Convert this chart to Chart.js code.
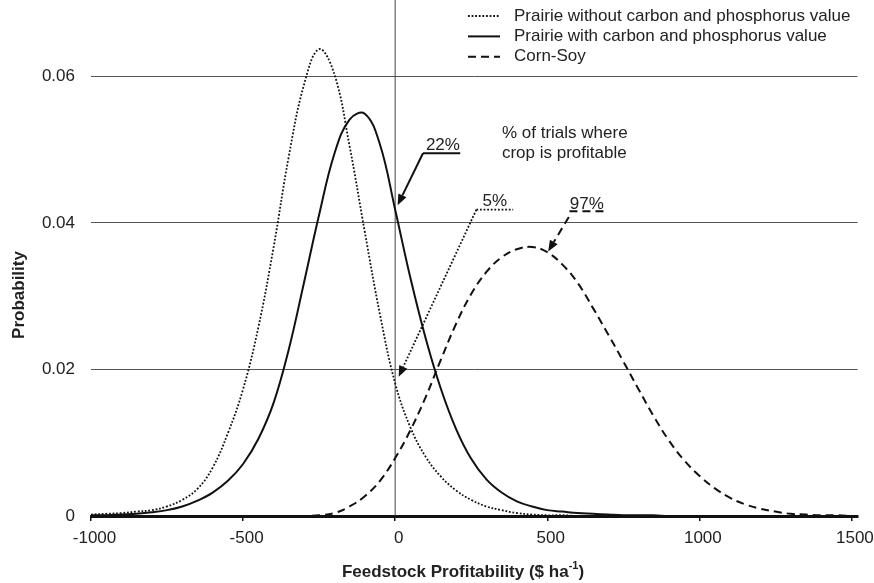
<!DOCTYPE html>
<html>
<head>
<meta charset="utf-8">
<script src="https://cdn.jsdelivr.net/npm/chart.js@4.4.0/dist/chart.umd.min.js"></script>
<style>
  body { margin: 0; background: #fff; }
</style>
</head>
<body>
<canvas id="myChart" width="874" height="583"></canvas>
<script>
const profit = [-1000,-950,-900,-850,-800,-750,-700,-650,-600,-550,-500,-450,-400,-350,-300,-250,-200,-150,-100,-50,
  0,50,100,150,200,250,300,350,400,450,500,550,600,650,700,750,800,850,900,950,
  1000,1050,1100,1150,1200,1250,1300,1350,1400,1450,1500];

const prairieNoValue = [0.0002,0.0003,0.0004,0.0006,0.0008,0.0013,0.0022,0.0037,0.0066,0.0113,0.0173,0.0257,0.0366,0.049,0.0588,0.0637,0.0603,0.0505,0.0388,0.0275,
  0.0181,0.0121,0.0081,0.0054,0.0035,0.0022,0.0013,0.0008,0.0004,0.0002,0.0001,0.0001,0,0,0,0,0,0,0,0,
  0,0,0,0,0,0,0,0,0,0,0];

const prairieWithValue = [0.0001,0.0001,0.0002,0.0003,0.0005,0.0008,0.0013,0.0021,0.0032,0.0048,0.0071,0.0105,0.0154,0.0227,0.0318,0.0411,0.0494,0.0541,0.0549,0.0507,
  0.0418,0.0325,0.0243,0.0174,0.0119,0.0078,0.005,0.0032,0.002,0.0013,0.0008,0.0006,0.0004,0.0003,0.0002,0.0001,0.0001,0.0001,0,0,
  0,0,0,0,0,0,0,0,0,0,0];

const cornSoy = [0,0,0,0,0,0,0,0,0,0,0,0,0,0,0,0.0001,0.0004,0.0013,0.0027,0.0048,
  0.0079,0.0117,0.0162,0.0213,0.0262,0.0303,0.0333,0.0353,0.0364,0.0367,0.036,0.0343,0.0318,0.0284,0.0248,0.0211,0.0173,0.0136,0.0103,0.0076,
  0.0055,0.0038,0.0025,0.0016,0.001,0.0006,0.0003,0.0002,0.0001,0.0001,0];

const seriesNames = ['Prairie without carbon and phosphorus value', 'Prairie with carbon and phosphorus value', 'Corn-Soy'];
const xTicks = [-1000, -500, 0, 500, 1000, 1500];
const yTicks = [0, 0.02, 0.04, 0.06];
const yTickLabels = ['0', '0.02', '0.04', '0.06'];
const profitableShare = ['22%', '5%', '97%'];

const FONT = '"Liberation Sans", Arial, sans-serif';
Chart.defaults.font.family = FONT;
Chart.defaults.font.size = 17;
Chart.defaults.color = '#222';

const lineStyles = [
  { color: '#111', width: 1.8, dash: [1.8, 1.8] },
  { color: '#111', width: 2, dash: [] },
  { color: '#111', width: 2, dash: [8, 5] }
];

function toPoints(values) {
  return profit.map((x, i) => ({ x: x, y: values[i] }));
}

// callouts placed in data units
const callouts = [
  { label: profitableShare[0], text: [101, 0.0500], under: [91.5, 214, 0.0495], from: [91.5, 0.0495], to: [8, 0.0424], style: 1 },
  { label: profitableShare[1], text: [287, 0.0423], under: [267, 388, 0.0418], from: [267, 0.0418], to: [11.5, 0.0190], style: 0 },
  { label: profitableShare[2], text: [574, 0.0419], under: [573, 691, 0.0416], from: [571, 0.0408], to: [503, 0.0361], style: 2 }
];

function arrow(ctx, x1, y1, x2, y2, st) {
  const ang = Math.atan2(y2 - y1, x2 - x1);
  const len = 11, half = 4.5;
  const bx = x2 - Math.cos(ang) * len, by = y2 - Math.sin(ang) * len;
  ctx.save();
  ctx.strokeStyle = st.color;
  ctx.lineWidth = st.width;
  ctx.setLineDash(st.dash);
  ctx.beginPath();
  ctx.moveTo(x1, y1);
  ctx.lineTo(bx, by);
  ctx.stroke();
  ctx.setLineDash([]);
  ctx.fillStyle = st.color;
  ctx.beginPath();
  ctx.moveTo(x2, y2);
  ctx.lineTo(bx + Math.sin(ang) * half, by - Math.cos(ang) * half);
  ctx.lineTo(bx - Math.sin(ang) * half, by + Math.cos(ang) * half);
  ctx.closePath();
  ctx.fill();
  ctx.restore();
}

const extras = {
  id: 'extras',
  beforeDatasetsDraw(chart) {
    const { ctx, scales: { x, y } } = chart;
    const zx = x.getPixelForValue(0);
    ctx.save();
    ctx.strokeStyle = '#444';
    ctx.lineWidth = 1;
    ctx.beginPath();
    ctx.moveTo(zx, 0);
    ctx.lineTo(zx, y.getPixelForValue(0));
    ctx.stroke();
    ctx.restore();
  },
  afterDraw(chart) {
    const { ctx, scales: { x, y } } = chart;
    ctx.save();

    // legend
    seriesNames.forEach((name, i) => {
      const ly = 16 + i * 20.4;
      const st = lineStyles[i];
      ctx.strokeStyle = st.color;
      ctx.lineWidth = st.width;
      ctx.setLineDash(st.dash);
      ctx.beginPath();
      ctx.moveTo(468, ly);
      ctx.lineTo(500, ly);
      ctx.stroke();
      ctx.setLineDash([]);
      ctx.fillStyle = '#222';
      ctx.font = '17px ' + FONT;
      ctx.textAlign = 'left';
      ctx.textBaseline = 'middle';
      ctx.fillText(name, 514, ly);
    });

    // note
    ctx.font = '17px ' + FONT;
    ctx.textBaseline = 'middle';
    ctx.fillText('% of trials where', x.getPixelForValue(351), y.getPixelForValue(0.0522));
    ctx.fillText('crop is profitable', x.getPixelForValue(351), y.getPixelForValue(0.0495));

    // callouts
    callouts.forEach(c => {
      const st = lineStyles[c.style];
      ctx.textBaseline = 'alphabetic';
      ctx.fillStyle = '#222';
      ctx.fillText(c.label, x.getPixelForValue(c.text[0]), y.getPixelForValue(c.text[1]));
      ctx.strokeStyle = st.color;
      ctx.lineWidth = st.width;
      ctx.setLineDash(st.dash);
      const uy = y.getPixelForValue(c.under[2]);
      ctx.beginPath();
      ctx.moveTo(x.getPixelForValue(c.under[0]), uy);
      ctx.lineTo(x.getPixelForValue(c.under[1]), uy);
      ctx.stroke();
      ctx.setLineDash([]);
      arrow(ctx, x.getPixelForValue(c.from[0]), y.getPixelForValue(c.from[1]),
        x.getPixelForValue(c.to[0]), y.getPixelForValue(c.to[1]), st);
    });

    // axis titles
    ctx.fillStyle = '#222';
    ctx.font = 'bold 17px ' + FONT;
    ctx.textBaseline = 'middle';
    ctx.textAlign = 'center';
    ctx.save();
    ctx.translate(19, 295);
    ctx.rotate(-Math.PI / 2);
    ctx.fillText('Probability', 0, 0);
    ctx.restore();

    const main = 'Feedstock Profitability ($ ha';
    const sup = '-1';
    ctx.textAlign = 'left';
    ctx.font = 'bold 17px ' + FONT;
    const w1 = ctx.measureText(main).width;
    const w3 = ctx.measureText(')').width;
    ctx.font = 'bold 11px ' + FONT;
    const w2 = ctx.measureText(sup).width;
    let tx = 463 - (w1 + w2 + w3) / 2;
    const ty = 572;
    ctx.font = 'bold 17px ' + FONT;
    ctx.fillText(main, tx, ty);
    ctx.font = 'bold 11px ' + FONT;
    ctx.fillText(sup, tx + w1, ty - 6);
    ctx.font = 'bold 17px ' + FONT;
    ctx.fillText(')', tx + w1 + w2, ty);
    ctx.restore();
  }
};

const ctx = document.getElementById('myChart').getContext('2d');
const myChart = new Chart(ctx, {
  type: 'line',
  data: {
    datasets: [prairieNoValue, prairieWithValue, cornSoy].map((vals, i) => ({
      label: seriesNames[i],
      data: toPoints(vals),
      borderColor: lineStyles[i].color,
      borderWidth: lineStyles[i].width,
      borderDash: lineStyles[i].dash,
      pointRadius: 0,
      fill: false,
      tension: 0.4
    }))
  },
  options: {
    responsive: false,
    animation: false,
    layout: { padding: { top: 3, right: 16.5, left: 0, bottom: 0 } },
    plugins: { legend: { display: false }, tooltip: { enabled: false } },
    scales: {
      x: {
        type: 'linear',
        min: -1000,
        max: 1520,
        afterBuildTicks: s => { s.ticks = xTicks.map(v => ({ value: v })); },
        afterFit: s => { s.height = 67; s.paddingLeft = 0; s.paddingRight = 0; },
        ticks: { padding: 7, labelOffset: 3.5, maxRotation: 0, color: '#222', callback: v => String(v) },
        grid: { drawOnChartArea: false, drawTicks: true, tickLength: 5, color: '#111', lineWidth: 1.5 },
        border: { display: true, color: '#111', width: 3 }
      },
      y: {
        min: 0,
        max: 0.07,
        afterBuildTicks: s => { s.ticks = yTicks.map(v => ({ value: v })); },
        afterFit: s => { s.width = 91; s.paddingTop = 0; s.paddingBottom = 0; },
        ticks: { padding: 16, color: '#222', callback: (v, i) => yTickLabels[i] },
        grid: { drawTicks: false, color: '#555', lineWidth: 1 },
        border: { display: false }
      }
    }
  },
  plugins: [extras]
});
</script>
</body>
</html>
